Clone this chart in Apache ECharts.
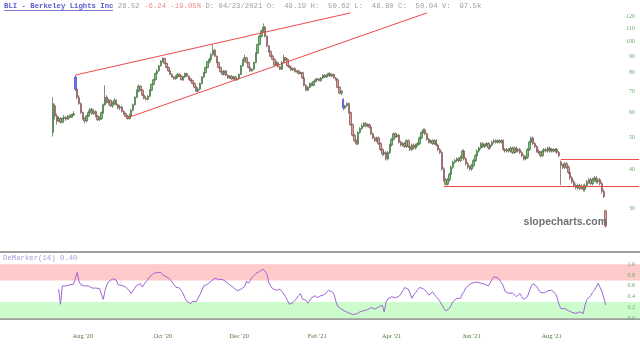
<!DOCTYPE html>
<html>
<head>
<meta charset="utf-8">
<script src="https://cdn.jsdelivr.net/npm/echarts@6/dist/echarts.min.js"></script>
<style>
html, body { margin: 0; padding: 0; background: #fff; }
#chart { width: 640px; height: 347px; }
</style>
</head>
<body>
<div id="chart"></div>
<script>
// daily candles [open, close, low, high], one array per month
var jul20 = [[52,64,50.5,67],[63,58.5,57,64],[58.5,56.5,55,59.5],[56.5,57.5,56,58.5],[57.5,56,55.5,58],[56,57.5,55.5,58],[57.5,58,57,59],[58,57.2,56.5,58.5],[57.2,58.5,57,59],[58.5,58,57.5,59.2],[58,59,57.8,59.5],[59,59.5,58.5,60.5],[77.5,71,70,78.5],[71,67,66,72],[67,64,63.5,68],[64,60,59.5,64.5]];
var aug20 = [[60,57.5,57,60.5],[57.5,56.5,55.5,58],[56.5,58.5,56,59],[58.5,60,58,61],[60,61.5,59.5,62],[61.5,59.5,59,62],[59.5,60.5,59,61.5],[60.5,58.5,58,61],[58.5,57,56.5,59],[57,57.5,56.5,58.5],[57.5,60,57,60.5],[60,63.5,59.5,64],[63.5,67,63,73],[67,64.5,64,68],[64.5,65.5,63.5,66.5],[65.5,63,62.5,66],[63,64,62,65],[64,65.5,63.5,66.5],[65.5,63.5,63,66],[63.5,62,61.5,64],[62,62.5,61,63.5],[62.5,60.5,60,63]];
var sep20 = [[60.5,59.5,59,61],[59.5,58.5,58,60],[58.5,57.5,57,59],[57.5,58.5,57,59.5],[58.5,61,58,61.5],[61,63.5,60.5,64],[63.5,67,63,67.5],[67,70,66.5,71],[70,72.5,69.5,73.5],[72.5,70.5,70,73],[70.5,68,67.5,71],[68,66.5,66,68.5],[66.5,66,65.5,67.5],[66,67.5,65.5,68],[67.5,70.5,67,71],[70.5,73.5,70,74],[73.5,76,73,76.5],[76,79.5,75.5,80],[79.5,81,79,82],[81,84,80.5,84.5],[84,87,83.5,87.5]];
var oct20 = [[87,88.5,86,89.5],[88.5,85.5,85,89],[85.5,83,82.5,86],[83,81,80.5,83.5],[81,79,78.5,81.5],[79,77.5,77,79.5],[77.5,76.5,76,78],[76.5,77.5,76,78.5],[77.5,79,77,80],[79,78,77.5,79.5],[78,76,75.5,78.5],[76,77.5,75.5,78],[77.5,79.5,77,80],[79.5,78,77.5,80],[78,76.5,76,78.5],[76.5,75.5,75,77],[75.5,74,73.5,76],[74,72,71.5,74.5],[72,70,69.5,72.5],[70,71,69.5,72],[71,74,70.5,74.5],[74,77.5,73.5,78]];
var nov20 = [[77.5,80,77,80.5],[80,83,79.5,83.5],[83,86.5,82.5,87],[86.5,88,85.5,89],[88,91,87.5,92],[91,94,90.5,98],[94,90,89.5,95],[90,86,85.5,90.5],[86,83,82.5,86.5],[83,80.5,80,83.5],[80.5,79,78.5,81],[79,81,78.5,81.5],[81,78.5,78,81.5],[78.5,77,76.5,79],[77,78,76.5,78.5],[78,76.5,76,78.5],[76.5,77.5,76,78],[77.5,76,75.5,78],[76,76.5,75.5,77]];
var dec20 = [[76.5,79,76,79.5],[79,84,78.5,84.5],[84,87.5,83.5,88],[87.5,89,86.5,91],[89,86,85.5,89.5],[86,83,82.5,86.5],[83,81,80.5,83.5],[81,82,80.5,82.5],[82,86,81.5,86.5],[86,92,85.5,92.5],[92,98,91.5,98.5],[98,104,97.5,105],[104,108,103,109],[108,111,107,114],[111,104,103,112],[104,97,96,104.5],[97,93,92.5,97.5],[93,90,89.5,94],[90,88,87.5,91],[88,84.5,84,88.5],[84.5,86,84,87],[86,83.5,83,86.5]];
var jan21 = [[83.5,82,81.5,84],[82,86,81.5,87],[86,89,85.5,91],[89,88,87,89.5],[88,84,83.5,88.5],[84,83,82.5,84.5],[83,81.5,81,83.5],[81.5,82.5,81,83],[82.5,80.5,80,83],[80.5,81,80,81.5],[81,79.5,79,81.5],[79.5,80,79,80.5],[80,77,76.5,80.5],[77,73,72.5,77.5],[73,70.5,70,73.5],[70.5,72,70,72.5],[72,74,71.5,74.5],[74,73,72.5,74.5],[73,75,72.5,75.5],[75,76,74.5,76.5]];
var feb21 = [[76,76.5,75.5,77],[76.5,75.5,75,77],[75.5,77,75,77.5],[77,78.5,76.5,79],[78.5,77.5,77,79],[77.5,78.5,77,79],[78.5,79.5,78,80],[79.5,78,77.5,80],[78,79,77.5,79.5],[79,77,76.5,79.5],[77,76,75.5,77.5],[76,72,71.5,76.5],[72,69,68.5,72.5],[69,70,68,70.5],[66,62,61,66.5],[62,63,61.5,63.5],[63,64,62.5,64.5],[64,60,59.5,64.5],[60,55,54.5,60.5]];
var mar21 = [[55,51,50.5,55.5],[51,49,48.5,51.5],[49,48,47.5,49.5],[48,52,47.5,52.5],[52,53.5,51.5,54],[53.5,54.5,53,55.5],[54.5,55.5,54,56],[55.5,54.5,54,56],[54.5,55,54,55.5],[55,54,53.5,55.5],[54,51.5,51,54.5],[51.5,50,49.5,52],[50,49,48.5,50.5],[49,50,48.5,50.5],[50,48,47.5,50.5],[48,46,45.5,48.5],[46,44.5,44,46.5],[44.5,45,44,45.5],[45,43,42.5,45.5],[43,45,42.5,45.5],[45,47.5,44.5,48]];
var apr21 = [[47.5,49.5,47,50],[49.5,51.5,49,52],[51.5,50.5,50,52],[50.5,51,50,51.5],[51,48.5,48,51.5],[48.5,47.5,47,49],[47.5,48,47,48.5],[48,47,46.5,48.5],[47,49,46.5,49.5],[49,47,46.5,49.5],[47,46,45.5,47.5],[46,47.5,45.5,48],[47.5,46.5,46,48],[46.5,47.5,46,48],[47.5,48,47,48.5],[48,50,47.5,50.5],[50,52,49.5,52.5],[52,53,51.5,53.5],[53,51.5,51,53.5],[51.5,49.5,49,52],[49.5,48.5,48,50]];
var may21 = [[48.5,49,48,49.5],[49,48,47.5,49.5],[48,49,47.5,49.5],[49,47.5,47,49.5],[47.5,46,45.5,48],[46,45,44.5,46.5],[45,40,39.5,45.5],[40,37,36.5,40.5],[37,35.8,35.5,37.5],[35.8,37,35.5,37.5],[37,38.5,36.5,39],[38.5,40.5,38,41],[40.5,42,40,42.5],[42,42.5,41.5,43],[42.5,43,42,43.5],[43,42.5,42,43.5],[42.5,43.5,42,44],[43.5,45.5,43,46],[45.5,43,42.5,46],[43,41.5,41,43.5],[41.5,40.5,40,42],[40.5,40,39.5,41]];
var jun21 = [[40,41,39.5,41.5],[41,42.5,40.5,43],[42.5,44,42,44.5],[44,45.5,43.5,46],[45.5,46.5,45,47],[46.5,48,46,48.5],[48,47,46.5,48.5],[47,47.5,46.5,48],[47.5,48,47,48.5],[48,46.5,46,48.5],[46.5,47.5,46,48],[47.5,48.5,47,49],[48.5,49,48,49.5],[49,48.5,48,49.5],[48.5,49,48,49.5],[49,48.5,48,49.5],[48.5,49,48,49.5],[49,46,45.5,49.5],[46,45.5,45,46.5],[45.5,46,45,46.5],[46,45.5,45,46.5],[45.5,46.5,45,47]];
var jul21 = [[46.5,45,44.5,47],[45,46.5,44.5,47],[46.5,45.5,45,47],[45.5,46,45,46.5],[46,45,44.5,46.5],[45,44,43.5,45.5],[44,43,42.5,44.5],[43,43.5,42.5,44],[43.5,46,43,46.5],[46,48.5,45.5,49],[48.5,50,48,50.5],[50,48,47.5,50.5],[48,47,46.5,48.5],[47,45.5,45,47.5],[45.5,45,44.5,46],[45,44,43.5,45.5],[44,45.5,43.5,46],[45.5,46,45,46.5],[46,45.5,45,46.5],[45.5,46.5,45,47],[46.5,45.5,45,47]];
var aug21 = [[45.5,46,45,46.5],[46,45.5,45,46.5],[45.5,46,45,46.5],[46,45,44.5,46.5],[45,44,43.5,45.5],[42,41,35.6,42.5],[41,40.5,40,41.5],[40.5,41.5,40,42],[41.5,40.5,40,42],[40.5,39,38.5,41],[39,37.5,37,39.5],[37.5,36.5,36,38],[36.5,35.5,35,37],[35.5,35,34.5,36],[35,35.5,34.5,36],[35.5,34.8,34.3,36],[34.8,35.3,34.5,35.8],[35.3,34.5,34,35.8],[34.5,35.5,34,36],[35.5,36.5,35,37],[36.5,37,36,37.5],[37,36,35.5,37.5]];
var sep21 = [[36,37,35.5,37.5],[37,37.5,36.5,38],[37.5,36.5,36,38],[36.5,37,36,37.5],[37,36,35.5,37.5],[36,34,33.5,36.5],[34,32.76,32.5,34.5],[29.6,26.52,26.2,29.8]];

// DeMarker(14), one value per candle
var demarker = [
  '-','-','-',0.54,0.26,0.60,0.60,0.60,0.61,0.62,
  0.62,0.63,0.66,0.85,0.68,0.62,0.59,0.60,0.60,0.60,
  0.57,0.56,0.57,0.56,0.55,0.55,0.55,0.35,0.52,0.63,
  0.68,0.71,0.73,0.74,0.71,0.62,0.60,0.61,0.62,0.58,
  0.56,0.51,0.46,0.45,0.56,0.61,0.63,0.64,0.58,0.60,
  0.68,0.72,0.77,0.80,0.83,0.85,0.85,0.84,0.85,0.80,
  0.78,0.77,0.74,0.72,0.67,0.62,0.58,0.57,0.56,0.51,
  0.45,0.37,0.31,0.28,0.27,0.31,0.29,0.31,0.34,0.44,
  0.52,0.60,0.62,0.63,0.65,0.69,0.71,0.74,0.73,0.72,
  0.72,0.72,0.70,0.68,0.65,0.62,0.59,0.57,0.54,0.51,
  0.52,0.54,0.56,0.59,0.69,0.65,0.70,0.76,0.79,0.83,
  0.85,0.87,0.89,0.91,0.90,0.82,0.66,0.60,0.55,0.53,
  0.52,0.53,0.54,0.50,0.45,0.40,0.33,0.26,0.27,0.29,
  0.33,0.37,0.42,0.46,0.36,0.34,0.33,0.28,0.30,0.38,
  0.40,0.42,0.38,0.40,0.42,0.43,0.44,0.43,0.52,0.53,
  0.49,0.45,0.32,0.22,0.19,0.17,0.15,0.13,0.12,0.10,
  0.08,0.07,0.06,0.08,0.10,0.12,0.13,0.14,0.15,0.16,
  0.18,0.20,0.22,0.17,0.18,0.21,0.23,0.24,0.12,0.30,
  0.36,0.39,0.40,0.39,0.38,0.39,0.41,0.45,0.51,0.57,
  0.56,0.54,0.45,0.37,0.44,0.48,0.53,0.57,0.56,0.55,
  0.53,0.48,0.43,0.46,0.49,0.44,0.40,0.36,0.31,0.25,
  0.19,0.14,0.16,0.18,0.24,0.31,0.34,0.37,0.36,0.37,
  0.45,0.50,0.57,0.60,0.63,0.65,0.66,0.68,0.67,0.66,
  0.65,0.64,0.63,0.62,0.60,0.62,0.72,0.77,0.80,0.75,
  0.71,0.66,0.60,0.50,0.47,0.46,0.46,0.47,0.48,0.40,
  0.43,0.46,0.40,0.35,0.36,0.40,0.50,0.60,0.64,0.62,
  0.59,0.53,0.48,0.46,0.47,0.49,0.51,0.54,0.52,0.50,
  0.46,0.38,0.25,0.18,0.18,0.18,0.16,0.14,0.12,0.11,
  0.10,0.09,0.10,0.12,0.10,0.09,0.25,0.35,0.37,0.42,
  0.48,0.52,0.58,0.65,0.64,0.50,0.38,0.25
];

// month ticks: candle index and label
var monthTicks = [16, 59, 100, 142, 182, 225, 268];
var monthLabels = ["Aug '20", "Oct '20", "Dec '20", "Feb '21", "Apr '21", "Jun '21", "Aug '21"];
var priceTicks = [30, 40, 50, 60, 70, 80, 90, 100, 110, 120];
var demTicks = [0, 0.2, 0.4, 0.6, 0.8, 1.0];

// drawn trend lines: [candle index, price]
var channelUpper = [[12, 78.6], [160, 123]];
var channelLower = [[40, 57.8], [201, 123]];
var supportLevels = [[273, 42.9], [210, 35.2]];   // start index, price; run to right edge
var blueBars = [12, 156];

var candles = [].concat(jul20, aug20, sep20, oct20, nov20, dec20, jan21, feb21, mar21, apr21, may21, jun21, jul21, aug21, sep21);

// empty slots left and right of the data, as on the original page
var LEAD = 28, TRAIL = 18;
var total = LEAD + candles.length + TRAIL;
var slots = [];
for (var k = 0; k < total; k++) slots.push(String(k));

function pad(arr) {
    var out = [];
    for (var a = 0; a < LEAD; a++) out.push('-');
    out = out.concat(arr);
    for (var b = 0; b < TRAIL; b++) out.push('-');
    return out;
}

var candleItems = candles.map(function (c, i) {
    if (blueBars.indexOf(i) >= 0) {
        return {value: c, itemStyle: {color: '#7070f0', color0: '#7070f0', borderColor: '#4848d0', borderColor0: '#4848d0'}};
    }
    return c;
});

function at(p) { return {coord: [String(LEAD + p[0]), p[1]]}; }
var lines = [
    [at(channelUpper[0]), at(channelUpper[1])],
    [at(channelLower[0]), at(channelLower[1])]
];
supportLevels.forEach(function (s) {
    lines.push([at(s), {coord: [String(total - 1), s[1]]}]);
});

var tickMap = {};
monthTicks.forEach(function (t, i) { tickMap[LEAD + t] = monthLabels[i]; });

var axisFont = 'Liberation Serif';
var mono = 'Liberation Mono';
var chart = echarts.init(document.getElementById('chart'), null, {renderer: 'canvas'});
chart.setOption({
    animation: false,
    backgroundColor: '#fff',
    title: {
        left: 4, top: 2, padding: 0,
        text: '{name|BLI - Berkeley Lights Inc}{px| 26.52 }{chg|-6.24 -19.05%}{rest| D: 04/23/2021 O:  49.19 H:  50.62 L:  48.80 C:  50.04 V:  97.5k}',
        textStyle: {
            fontSize: 7.3, lineHeight: 9,
            rich: {
                name: {fontFamily: mono, fontSize: 7.3, fontWeight: 'bold', color: '#5a5ad0'},
                px: {fontFamily: mono, fontSize: 7.3, fontWeight: 'normal', color: '#a0a0a0'},
                chg: {fontFamily: mono, fontSize: 7.3, fontWeight: 'normal', color: '#f08a8a'},
                rest: {fontFamily: mono, fontSize: 7.3, fontWeight: 'normal', color: '#a0a0a0'}
            }
        }
    },
    graphic: [
        {type: 'line', z: 10, shape: {x1: 4, y1: 10.5, x2: 113, y2: 10.5}, style: {stroke: '#5a5ad0', lineWidth: 0.8}},
        {type: 'text', z: 10, left: 3, top: 255, style: {text: 'DeMarker(14) 0.40', fontFamily: mono, fontSize: 7.3, fill: '#b09ad8'}},
        {type: 'text', z: 10, right: 33, top: 217, style: {text: 'slopecharts.com', fontFamily: 'Liberation Sans', fontWeight: 'bold', fontSize: 10.5, fill: '#707070'}}
    ],
    grid: [
        {left: 0, right: 0, top: 0, height: 252},
        {left: 0, right: 0, top: 253, bottom: 19}
    ],
    xAxis: [
        {type: 'category', gridIndex: 0, data: slots,
            axisLine: {lineStyle: {color: '#a0a0a0', width: 2}},
            axisTick: {show: false}, axisLabel: {show: false}, splitLine: {show: false}},
        {type: 'category', gridIndex: 1, data: slots,
            axisLine: {lineStyle: {color: '#a0a0a0', width: 2}},
            axisTick: {show: false}, splitLine: {show: false},
            axisLabel: {
                interval: function (idx) { return tickMap[idx] !== undefined; },
                formatter: function (v, idx) { return tickMap[idx] || ''; },
                color: '#557a44', fontSize: 6.5, fontFamily: axisFont, margin: 5
            }}
    ],
    yAxis: [
        {type: 'log', gridIndex: 0, min: 22, max: 134.9, position: 'right', z: 20,
            axisLine: {show: false}, axisTick: {show: false}, splitLine: {show: false},
            axisLabel: {inside: true, customValues: priceTicks, margin: 5,
                color: '#6aaa6a', fontSize: 6, fontFamily: axisFont,
                formatter: function (v) { return String(Math.round(v)); }}},
        {type: 'value', gridIndex: 1, min: -0.18, max: 1.21, position: 'right', z: 20,
            axisLine: {show: false}, axisTick: {show: false}, splitLine: {show: false},
            axisLabel: {inside: true, customValues: demTicks, margin: 5,
                color: '#6aaa6a', fontSize: 6, fontFamily: axisFont,
                formatter: function (v) { return v.toFixed(1); }}}
    ],
    series: [
        {
            type: 'candlestick', xAxisIndex: 0, yAxisIndex: 0,
            data: pad(candleItems),
            barWidth: 1.9,
            itemStyle: {color: '#6cc46c', color0: '#dc9c9c', borderColor: '#3c6c3c', borderColor0: '#7a4a4a', borderWidth: 0.7},
            markLine: {
                silent: true, symbol: ['none', 'none'], label: {show: false},
                lineStyle: {color: '#ee4a4a', width: 1, type: 'solid'},
                data: lines
            }
        },
        {
            type: 'line', xAxisIndex: 1, yAxisIndex: 1,
            data: pad(demarker), showSymbol: false,
            lineStyle: {color: '#a066d6', width: 1},
            markArea: {
                silent: true,
                data: [
                    [{yAxis: 0.7, itemStyle: {color: '#ffcaca'}}, {yAxis: 1.0}],
                    [{yAxis: 0.0, itemStyle: {color: '#ccfccc'}}, {yAxis: 0.3}]
                ]
            }
        }
    ]
});
</script>
</body>
</html>
